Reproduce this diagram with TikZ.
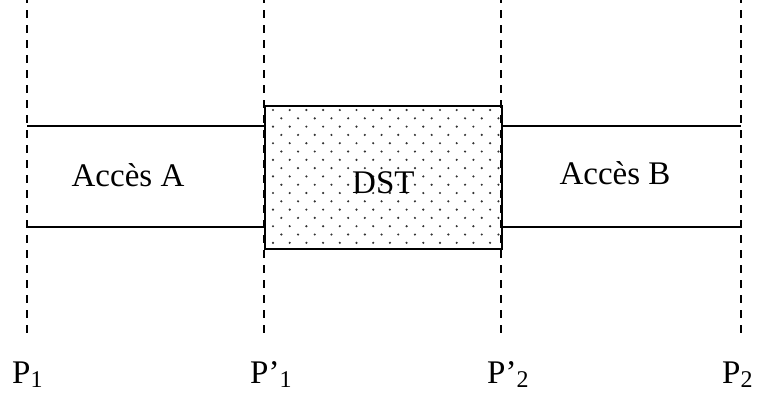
\documentclass[tikz,border=0pt]{standalone}
\usepackage{fontspec}
\setmainfont{Liberation Serif}
\newcommand{\psub}[1]{\raisebox{-0.3ex}{\fontsize{24}{24}\selectfont #1}}
\begin{document}
\begin{tikzpicture}[x=1pt, y=-1pt]
    % Styles
    \tikzstyle{limit} = [line width=1.8pt, dash pattern=on 8pt off 7pt, dash phase=5pt]
    \tikzstyle{wire} = [line width=1.8pt]
    \tikzstyle{label} = [font=\fontsize{33}{36}\selectfont, inner sep=0pt]
    \useasboundingbox (0,0) rectangle (761,392);

    % === DST block with dotted fill ===
    \node [draw, line width=1.8pt, minimum width=237pt, minimum height=143pt, inner sep=0pt,
        anchor=north west] (dst) at (264,105) {};
    \begin{scope}
        \clip (dst.south west) rectangle (dst.north east);
        \foreach \r in {0,...,17} {
            \pgfmathsetmacro{\off}{mod(\r,2)*8.35}
            \foreach \c in {0,...,15}
                \fill [black!80] (264+\off+9+\c*16.7, 110+\r*8.3) circle (1.2pt);
        }
    \end{scope}
    \node [label] at (dst.center) [yshift=-5pt] {DST};

    % === Limits ===
    \coordinate (p1top) at (27,0);    \coordinate (p1bot) at (27,335);
    \coordinate (q1top) at (264,0);   \coordinate (q1bot) at (264,335);
    \coordinate (q2top) at (501,0);   \coordinate (q2bot) at (501,335);
    \coordinate (p2top) at (741,0);   \coordinate (p2bot) at (741,335);
    \draw [limit] (p1top) -- (p1bot);
    \draw [limit] (q1top) -- (q1bot);
    \draw [limit] (q2top) -- (q2bot);
    \draw [limit] (p2top) -- (p2bot);

    % === Access lines ===
    \coordinate (a1) at (27,126);   \coordinate (a2) at (27,227);
    \coordinate (b1) at (741,126);  \coordinate (b2) at (741,227);
    \draw [wire] (a1) -- (a1 -| dst.west);
    \draw [wire] (a2) -- (a2 -| dst.west);
    \draw [wire] (b1) -- (b1 -| dst.east);
    \draw [wire] (b2) -- (b2 -| dst.east);
    \node [label, anchor=base] (acca) at (128,186) {Accès A};
    \node [label, anchor=base] (accb) at (615,184) {Accès B};

    % === Labels ===
    \node [label, anchor=base west] (lp1) at (12,383) {P\psub{1}};
    \node [label, anchor=base west] (lq1) at (250,383) {P’\psub{1}};
    \node [label, anchor=base west] (lq2) at (487,383) {P’\psub{2}};
    \node [label, anchor=base west] (lp2) at (722,383) {P\psub{2}};
\end{tikzpicture}
\end{document}
